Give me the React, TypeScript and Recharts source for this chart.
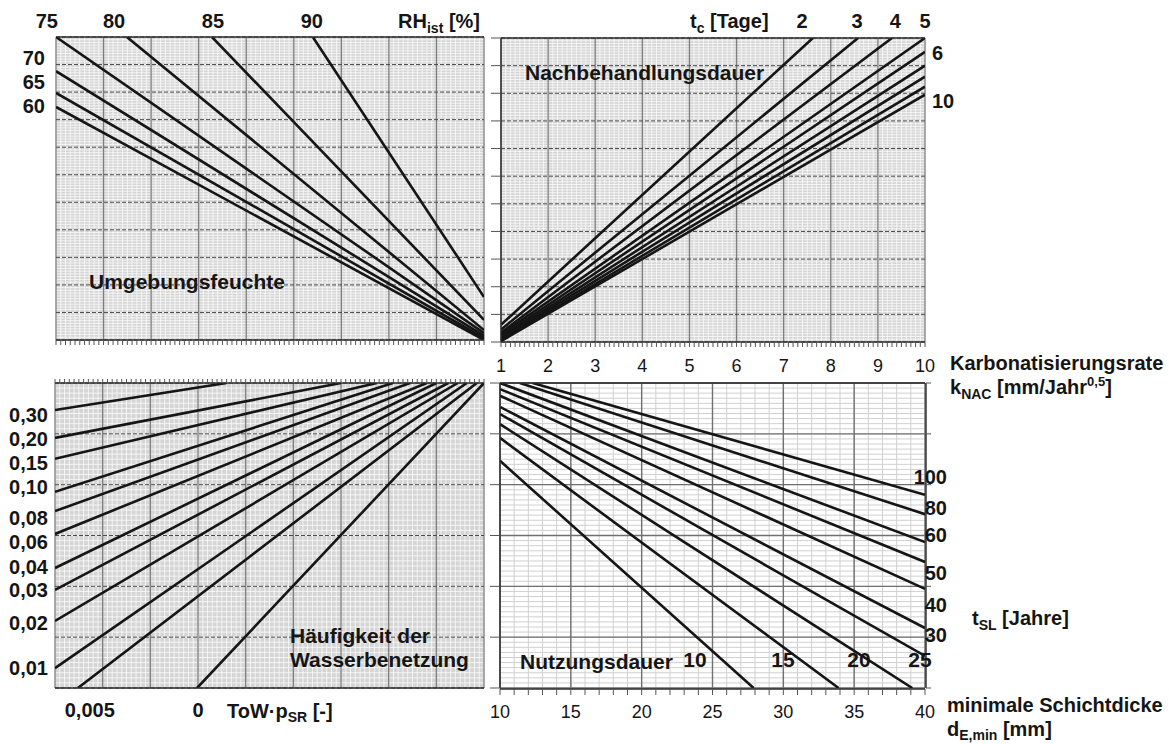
import React from 'react';
import { LineChart, Line, XAxis, YAxis, CartesianGrid } from 'recharts';

const W = 1169;
const H = 744;
const FONT = '"Liberation Sans", Arial, Helvetica, sans-serif';
const INK = '#151515';

// Umgebungsfeuchte (oben links): Rastereinheiten x 0..9, y 0..11
const rhValues = [60, 65, 70, 75, 80, 85, 90];
const rhStart = [[0, 8.46], [0, 8.97], [0, 9.76], [0, 11], [1.49, 11], [3.28, 11], [5.4, 11]];
const rhEnd = [[9, 0], [9, 0.07], [9, 0.15], [9, 0.25], [9, 0.36], [9, 0.73], [9, 1.56]];
const rhTopTicks = [0, 1.22, 3.3, 5.38];
const rhTopLabels = ['75', '80', '85', '90'];
const rhLeftTicks = [10.24, 9.37, 8.49];
const rhLeftLabels = ['70', '65', '60'];

// Nachbehandlungsdauer (oben rechts): x = kNAC 1..10, y Raster 0..11
const tcValues = [2, 3, 4, 5, 6, 7, 8, 9, 10];
const tcStartY = [0.62, 0.45, 0.34, 0.27, 0.2, 0.15, 0.1, 0.06, 0.03];
const tcEnd = [[7.62, 11], [8.58, 11], [9.3, 11], [10, 11], [10, 10.5], [10, 10.0], [10, 9.6], [10, 9.24], [10, 8.95]];
const tcTopTicks = [7.39, 8.56, 9.37, 10];
const tcTopLabels = ['2', '3', '4', '5'];
const tcRightTicks = [10.47, 8.73];
const tcRightLabels = ['6', '10'];
const kNacTicks = [1, 2, 3, 4, 5, 6, 7, 8, 9, 10];

// Häufigkeit der Wasserbenetzung (unten links): Raster x 0..9, y 0..6
const towValues = ['0,30', '0,20', '0,15', '0,10', '0,08', '0,06', '0,04', '0,03', '0,02', '0,01', '0,005', '0'];
const towStart = [[0, 5.47], [0, 4.92], [0, 4.51], [0, 3.86], [0, 3.48], [0, 3.03], [0, 2.36], [0, 1.93], [0, 1.32], [0, 0.39], [0.48, 0], [2.98, 0]];
const towEndX = [3.6, 6.0, 6.75, 7.09, 7.45, 7.8, 8.0, 8.25, 8.45, 8.64, 8.85, 9.0];
const towLeftTicks = [5.37, 4.9, 4.43, 3.95, 3.34, 2.87, 2.38, 1.93, 1.28, 0.39];
const towLeftLabels = ['0,30', '0,20', '0,15', '0,10', '0,08', '0,06', '0,04', '0,03', '0,02', '0,01'];
const towBottomTicks = [0.73, 3.0];
const towBottomLabels = ['0,005', '0'];

// Nutzungsdauer (unten rechts): x = dE,min 10..40 mm, y Raster 0..6
const tslValues = [10, 15, 20, 25, 30, 40, 50, 60, 80, 100];
const tslStart = [[10, 4.47], [10, 4.92], [10, 5.19], [10, 5.39], [10, 5.53], [10, 5.75], [10, 5.88], [10, 6], [11.4, 6], [12.3, 6]];
const tslEnd = [[27.9, 0], [33.9, 0], [39.1, 0], [40, 0.63], [40, 1.18], [40, 1.95], [40, 2.48], [40, 2.87], [40, 3.42], [40, 3.8]];
const tslRightTicks = [4.15, 3.54, 3.01, 2.26, 1.63, 1.04];
const tslRightLabels = ['100', '80', '60', '50', '40', '30'];
const tslInnerTicks = [23.76, 29.98, 35.34, 39.64];
const tslInnerLabels = ['10', '15', '20', '25'];
const dTicks = [10, 15, 20, 25, 30, 35, 40];

const steps = (from: number, to: number, step: number) => {
  const out: number[] = [];
  const n = Math.round((to - from) / step);
  for (let i = 0; i <= n; i++) out.push(+(from + i * step).toFixed(4));
  return out;
};

const seg = (a: number[], b: number[]) => [{ x: a[0], y: a[1] }, { x: b[0], y: b[1] }];

const rhLines = rhValues.map((_, i) => seg(rhStart[i], rhEnd[i]));
const tcLines = tcValues.map((_, i) => seg([1, tcStartY[i]], tcEnd[i]));
const towLines = towValues.map((_, i) => seg(towStart[i], [towEndX[i], 6]));
const tslLines = tslValues.map((_, i) => seg(tslStart[i], tslEnd[i]));

// plot rectangle in page pixels; n = number of 1px axes stacked on each side
const frame = (l: number, t: number, r: number, b: number, n: { l?: number; t?: number; r?: number; b?: number }) => ({
  left: l - (n.l || 0),
  top: t - (n.t || 0),
  right: W - r - (n.r || 0),
  bottom: H - b - (n.b || 0),
});

// fine raster lines through the axis scale
const fineGrid = (values: number[], dir: 'x' | 'y', domain: number[]) => (arg: any) => {
  const ax = dir === 'x' ? arg.xAxis : arg.yAxis;
  if (ax && typeof ax.scale === 'function') return values.map((v) => ax.scale(v));
  const o = arg.offset;
  const [d0, d1] = domain;
  return dir === 'x'
    ? values.map((v) => o.left + ((v - d0) / (d1 - d0)) * o.width)
    : values.map((v) => o.top + ((d1 - v) / (d1 - d0)) * o.height);
};

function labelTick(
  ticks: number[],
  labels: string[],
  o: { anchor?: 'start' | 'middle' | 'end'; dx?: number; dy?: number; size?: number; bold?: boolean; firstEnd?: boolean } = {}
) {
  const { anchor = 'middle', dx = 0, dy = 0, size = 20, bold = true, firstEnd = false } = o;
  return (p: any) => {
    const idx = ticks.indexOf(p.payload.value);
    const end = firstEnd && idx === 0;
    return (
      <text
        x={p.x + dx + (end ? 2 : 0)}
        y={p.y + dy}
        textAnchor={end ? 'end' : anchor}
        fontSize={size}
        fontWeight={bold ? 700 : 400}
        fill={INK}
        fontFamily={FONT}
      >
        {idx >= 0 ? labels[idx] : String(p.payload.value)}
      </text>
    );
  };
}

const noTick = () => <g />;
const lineAxis = { stroke: '#2a2a2a', strokeWidth: 1.4 };
const markLine = { stroke: '#555', strokeWidth: 1 };
// helper axes carry no data, so they keep their given domain
const aux = { type: 'number' as const, allowDataOverflow: true, interval: 0 as const };
const plain = { ...aux, tickSize: 0, tickMargin: 0, tickLine: false, axisLine: false };

const abs: React.CSSProperties = { position: 'absolute', left: 0, top: 0 };

function series(lines: { x: number; y: number }[][], name: string) {
  return lines.map((d, i) => (
    <Line
      key={name + i}
      xAxisId="main"
      yAxisId="main"
      data={d}
      dataKey="y"
      type="linear"
      stroke={INK}
      strokeWidth={2.6}
      dot={false}
      activeDot={false}
      isAnimationActive={false}
    />
  ));
}

const GREY_BG = '#d5d5d5';
const GREY_FINE = '#fbfbfb';

export default function App() {
  return (
    <div style={{ position: 'absolute', left: 0, top: 0, width: W, height: H, background: '#fff' }}>
      {/* oben links */}
      <div style={abs}>
        <LineChart width={W} height={H} margin={frame(56, 37, 484, 340, { t: 1, b: 1, l: 1 })}>
          <XAxis xAxisId="main" type="number" dataKey="x" domain={[0, 9]} ticks={steps(0, 9, 1)} interval={0} allowDataOverflow height={0} hide />
          <YAxis yAxisId="main" type="number" domain={[0, 11]} ticks={steps(0, 11, 1)} interval={0} allowDataOverflow width={0} hide />
          <CartesianGrid xAxisId="main" yAxisId="main" fill={GREY_BG} fillOpacity={1} stroke={GREY_FINE} strokeWidth={0.8}
            verticalCoordinatesGenerator={fineGrid(steps(0, 9, 0.1), 'x', [0, 9])}
            horizontalCoordinatesGenerator={fineGrid(steps(0, 11, 0.1), 'y', [0, 11])} />
          <CartesianGrid xAxisId="main" yAxisId="main" horizontal={false} stroke="#7d7d7d" strokeWidth={1.3} />
          <CartesianGrid xAxisId="main" yAxisId="main" vertical={false} stroke="#4a4a4a" strokeDasharray="4 2" />
          <XAxis xAxisId="lab" orientation="top" dataKey="x" domain={[0, 9]} ticks={rhTopTicks} height={1}
            {...plain} axisLine={lineAxis}
            tick={labelTick(rhTopTicks, rhTopLabels, { dy: -9, firstEnd: true })} />
          <XAxis xAxisId="marks" orientation="bottom" dataKey="x" domain={[0, 9]} ticks={steps(0, 9, 0.1)} height={1}
            {...aux} tickSize={5} tickMargin={0} tickLine={markLine} axisLine={lineAxis} tick={noTick} />
          <YAxis yAxisId="lab" orientation="left" domain={[0, 11]} ticks={rhLeftTicks} width={1}
            {...plain} tick={labelTick(rhLeftTicks, rhLeftLabels, { anchor: 'end', dx: -11, dy: 7 })} />
          {series(rhLines, 'rh')}
        </LineChart>
      </div>

      {/* oben rechts */}
      <div style={abs}>
        <LineChart width={W} height={H} margin={frame(501, 38, 925, 342, { t: 1, b: 2, l: 1, r: 1 })}>
          <XAxis xAxisId="main" type="number" dataKey="x" domain={[1, 10]} ticks={kNacTicks} interval={0} allowDataOverflow height={0} hide />
          <YAxis yAxisId="main" type="number" domain={[0, 11]} ticks={steps(0, 11, 1)} interval={0} allowDataOverflow width={0} hide />
          <CartesianGrid xAxisId="main" yAxisId="main" fill={GREY_BG} fillOpacity={1} stroke={GREY_FINE} strokeWidth={0.8}
            verticalCoordinatesGenerator={fineGrid(steps(1, 10, 0.1), 'x', [1, 10])}
            horizontalCoordinatesGenerator={fineGrid(steps(0, 11, 0.1), 'y', [0, 11])} />
          <CartesianGrid xAxisId="main" yAxisId="main" horizontal={false} stroke="#7d7d7d" strokeWidth={1.3} />
          <CartesianGrid xAxisId="main" yAxisId="main" vertical={false} stroke="#4a4a4a" strokeDasharray="4 2" />
          <XAxis xAxisId="lab" orientation="top" dataKey="x" domain={[1, 10]} ticks={tcTopTicks} height={1}
            {...plain} axisLine={lineAxis} tick={labelTick(tcTopTicks, tcTopLabels, { dy: -10 })} />
          <XAxis xAxisId="marks" orientation="bottom" dataKey="x" domain={[1, 10]} ticks={steps(1, 10, 0.1)} height={1}
            {...aux} tickSize={5} tickMargin={0} tickLine={markLine} axisLine={lineAxis} tick={noTick} />
          <XAxis xAxisId="num" orientation="bottom" dataKey="x" domain={[1, 10]} ticks={kNacTicks} height={1}
            {...plain} tick={labelTick(kNacTicks, kNacTicks.map(String), { dy: 29, size: 18, bold: false })} />
          <YAxis yAxisId="marks" orientation="left" domain={[0, 11]} ticks={steps(0, 11, 1)} width={1}
            {...aux} tickSize={10} tickMargin={0} tickLine={markLine} axisLine={lineAxis} tick={noTick} />
          <YAxis yAxisId="lab" orientation="right" domain={[0, 11]} ticks={tcRightTicks} width={1}
            {...plain} tick={labelTick(tcRightTicks, tcRightLabels, { anchor: 'start', dx: 7, dy: 7 })} />
          {series(tcLines, 'tc')}
        </LineChart>
      </div>

      {/* unten links */}
      <div style={abs}>
        <LineChart width={W} height={H} margin={frame(55, 383, 484, 688, { t: 1, b: 1, l: 1 })}>
          <XAxis xAxisId="main" type="number" dataKey="x" domain={[0, 9]} ticks={steps(0, 9, 1)} interval={0} allowDataOverflow height={0} hide />
          <YAxis yAxisId="main" type="number" domain={[0, 6]} ticks={steps(0, 6, 1)} interval={0} allowDataOverflow width={0} hide />
          <CartesianGrid xAxisId="main" yAxisId="main" fill={GREY_BG} fillOpacity={1} stroke={GREY_FINE} strokeWidth={0.8}
            verticalCoordinatesGenerator={fineGrid(steps(0, 9, 0.1), 'x', [0, 9])}
            horizontalCoordinatesGenerator={fineGrid(steps(0, 6, 0.1), 'y', [0, 6])} />
          <CartesianGrid xAxisId="main" yAxisId="main" horizontal={false} stroke="#7d7d7d" strokeWidth={1.3} />
          <CartesianGrid xAxisId="main" yAxisId="main" vertical={false} stroke="#4a4a4a" strokeDasharray="4 2" />
          <XAxis xAxisId="marks" orientation="top" dataKey="x" domain={[0, 9]} ticks={steps(0, 9, 0.1)} height={1}
            {...aux} tickSize={4} tickMargin={0} tickLine={markLine} axisLine={lineAxis} tick={noTick} />
          <XAxis xAxisId="lab" orientation="bottom" dataKey="x" domain={[0, 9]} ticks={towBottomTicks} height={1}
            {...plain} axisLine={lineAxis} tick={labelTick(towBottomTicks, towBottomLabels, { dy: 29 })} />
          <YAxis yAxisId="lab" orientation="left" domain={[0, 6]} ticks={towLeftTicks} width={1}
            {...plain} tick={labelTick(towLeftTicks, towLeftLabels, { anchor: 'end', dx: -7, dy: 7 })} />
          {series(towLines, 'tow')}
        </LineChart>
      </div>

      {/* unten rechts */}
      <div style={abs}>
        <LineChart width={W} height={H} margin={frame(500, 383, 925, 688, { t: 1, b: 3, l: 1, r: 2 })}>
          <XAxis xAxisId="main" type="number" dataKey="x" domain={[10, 40]} ticks={dTicks} interval={0} allowDataOverflow height={0} hide />
          <YAxis yAxisId="main" type="number" domain={[0, 6]} ticks={steps(0, 6, 1)} interval={0} allowDataOverflow width={0} hide />
          <CartesianGrid xAxisId="main" yAxisId="main" fill="#ffffff" fillOpacity={1} stroke="#d0d0d0" strokeWidth={1}
            verticalCoordinatesGenerator={fineGrid(steps(10, 40, 1), 'x', [10, 40])}
            horizontalCoordinatesGenerator={fineGrid(steps(0, 6, 0.1), 'y', [0, 6])} />
          <CartesianGrid xAxisId="main" yAxisId="main" stroke="#707070" strokeWidth={1.4} />
          <XAxis xAxisId="top" orientation="top" dataKey="x" domain={[10, 40]} ticks={[10]} height={1}
            {...plain} axisLine={lineAxis} tick={noTick} />
          <XAxis xAxisId="marks" orientation="bottom" dataKey="x" domain={[10, 40]} ticks={steps(10, 40, 1)} height={1}
            {...aux} tickSize={6} tickMargin={0} tickLine={markLine} axisLine={lineAxis} tick={noTick} />
          <XAxis xAxisId="num" orientation="bottom" dataKey="x" domain={[10, 40]} ticks={dTicks} height={1}
            {...plain} tick={labelTick(dTicks, dTicks.map(String), { dy: 28, size: 18, bold: false })} />
          <XAxis xAxisId="inner" orientation="bottom" dataKey="x" domain={[10, 40]} ticks={tslInnerTicks} height={1}
            {...plain} tick={labelTick(tslInnerTicks, tslInnerLabels, { dy: -21, size: 21 })} />
          <YAxis yAxisId="marks" orientation="left" domain={[0, 6]} ticks={steps(0, 6, 1)} width={1}
            {...aux} tickSize={10} tickMargin={0} tickLine={markLine} axisLine={lineAxis} tick={noTick} />
          <YAxis yAxisId="rmarks" orientation="right" domain={[0, 6]} ticks={steps(0, 6, 1)} width={1}
            {...aux} tickSize={5} tickMargin={0} tickLine={markLine} axisLine={lineAxis} tick={noTick} />
          <YAxis yAxisId="lab" orientation="right" domain={[0, 6]} ticks={tslRightTicks} width={1}
            {...plain} tick={labelTick(tslRightTicks, tslRightLabels, { anchor: 'end', dx: 22, dy: 7 })} />
          {series(tslLines, 'tsl')}
        </LineChart>
      </div>

      {/* Beschriftungen */}
      <svg width={W} height={H} style={{ ...abs, pointerEvents: 'none' }}>
        <g fontFamily={FONT} fontWeight={700} fill={INK}>
          <text x={480} y={28} fontSize={20} textAnchor="end">
            RH<tspan fontSize={14} dy={5}>ist</tspan><tspan dy={-5}> [%]</tspan>
          </text>
          <text x={690} y={28} fontSize={20}>
            t<tspan fontSize={14} dy={5}>c</tspan><tspan dy={-5}> [Tage]</tspan>
          </text>
          <text x={89} y={289} fontSize={21}>Umgebungsfeuchte</text>
          <text x={525} y={80} fontSize={21}>Nachbehandlungsdauer</text>
          <text x={290} y={643} fontSize={21}>Häufigkeit der</text>
          <text x={290} y={667} fontSize={21}>Wasserbenetzung</text>
          <text x={520} y={669} fontSize={21}>Nutzungsdauer</text>
          <text x={227} y={718} fontSize={20}>
            ToW·p<tspan fontSize={14} dy={4}>SR</tspan><tspan dy={-4}> [-]</tspan>
          </text>
          <text x={950} y={370} fontSize={20}>Karbonatisierungsrate</text>
          <text x={950} y={394} fontSize={20}>
            k<tspan fontSize={14} dy={5}>NAC</tspan><tspan dy={-5}> [mm/Jahr</tspan>
            <tspan fontSize={13} dy={-8}>0,5</tspan><tspan dy={8}>]</tspan>
          </text>
          <text x={972} y={625} fontSize={20}>
            t<tspan fontSize={14} dy={5}>SL</tspan><tspan dy={-5}> [Jahre]</tspan>
          </text>
          <text x={947} y={712} fontSize={20}>minimale Schichtdicke</text>
          <text x={947} y={736} fontSize={20}>
            d<tspan fontSize={14} dy={4}>E,min</tspan><tspan dy={-4}> [mm]</tspan>
          </text>
        </g>
      </svg>
    </div>
  );
}
